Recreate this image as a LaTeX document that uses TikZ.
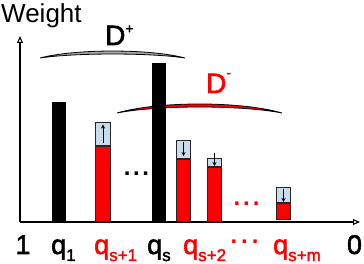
\documentclass[tikz,border=0pt]{standalone}
\usepackage{fontspec}
\setmainfont{Liberation Sans}
\newfontfamily\labelfont[FakeBold=2]{Liberation Sans}
\usetikzlibrary{arrows.meta}
\definecolor{boxblue}{RGB}{200,220,238}
\definecolor{lensgray}{RGB}{165,165,165}
\newcommand{\mysub}[1]{\raisebox{-7pt}{\fontsize{17}{17}\selectfont #1}}
\newcommand{\mysup}[2]{\raisebox{#1}{\fontsize{14}{14}\selectfont #2}}
\begin{document}
\begin{tikzpicture}[x=1pt,y=-1pt,
  axis/.style={line width=1.1pt, -{Triangle[open,length=7pt,width=6pt]}},
  blackbar/.style={fill=black, draw=none},
  redbar/.style={fill=red, draw=black!85, line width=1.2pt},
  topbox/.style={fill=boxblue, draw=black!85, line width=1.2pt},
  move/.style={line width=1pt, -{Stealth[length=4pt,width=4pt]}},
  lbl/.style={font=\labelfont\fontsize{27}{27}\selectfont, inner sep=0, anchor=base west},
  dlbl/.style={font=\labelfont\fontsize{28}{28}\selectfont, inner sep=0, anchor=base west},
  dots/.style={font=\fontsize{24}{24}\selectfont\bfseries, inner sep=0, anchor=base},
  lensplus/.style={fill=lensgray, draw=black, line width=0.8pt},
  lensminus/.style={fill=red, draw=black, line width=0.8pt}
]
\useasboundingbox (0,0) rectangle (364,264);

% axes
\coordinate (origin) at (20,222);
\coordinate (yend) at (20,36);
\coordinate (xend) at (360,222);
\draw[axis] (origin) -- (yend);
\draw[axis] (origin) -- (xend);

\node[font=\fontsize{26}{26}\selectfont, inner sep=0, anchor=base west] (weight) at (1,23) {Weight};

% D+ lens
\path[lensplus] (40,58) .. controls (75,48.7) and (150,48.7) .. (185,58)
   .. controls (150,52.7) and (75,52.7) .. (40,58) -- cycle;
\node[dlbl] (dplus) at (105,45) {D\mysup{11.6pt}{+}};

% D- lens
\path[lensminus] (117,113) .. controls (158,101) and (241,101) .. (282,113)
   .. controls (241,105) and (158,105) .. (117,113) -- cycle;
\node[dlbl, text=red] (dminus) at (206,93) {D\mysup{15.6pt}{-}};

% black bars
\fill[blackbar] (52,102) rectangle (66,222);
\fill[blackbar] (152,63) rectangle (166,222);

% q_{s+1}
\draw[redbar] (95.6,146) rectangle (110.4,221.4);
\draw[topbox] (95.6,122.6) rectangle (110.4,146);
\coordinate (a1s) at (103,143);
\coordinate (a1e) at (103,124.5);
\draw[move] (a1s) -- (a1e);

% bar 4
\draw[redbar] (176.6,159) rectangle (190.4,221.4);
\draw[topbox] (176.6,140.6) rectangle (190.4,159);
\coordinate (a2s) at (183.5,142);
\coordinate (a2e) at (183.5,156);
\draw[move] (a2s) -- (a2e);

% bar 5
\draw[redbar] (207.6,167) rectangle (221.4,221.4);
\draw[topbox] (207.6,158.6) rectangle (221.4,167);
\coordinate (a3s) at (214.5,153);
\coordinate (a3e) at (214.5,166);
\draw[move] (a3s) -- (a3e);

% bar 6
\draw[redbar] (276.6,203) rectangle (290.4,219.4);
\draw[topbox] (276.6,187.6) rectangle (290.4,203);
\coordinate (a4s) at (283.5,189);
\coordinate (a4e) at (283.5,202);
\draw[move] (a4s) -- (a4e);

% dots in plot
\node[dots] (pdots1) at (136.5,175.5) {.\hspace{2.5pt}.\hspace{2.5pt}.};
\node[dots, text=red] (pdots2) at (246.5,205.5) {.\hspace{3pt}.\hspace{3pt}.};

% bottom labels
\node[lbl, anchor=base] (l1) at (23,254) {1};
\node[lbl] (lq1) at (51,254) {q\mysub{1}};
\node[lbl, text=red] (lqs1) at (94,254) {q\mysub{s+1}};
\node[lbl] (lqs) at (147,254) {q\mysub{s}};
\node[lbl, text=red] (lqs2) at (183,254) {q\mysub{s+2}};
\node[dots, text=red] (ldots) at (244.5,243.5) {.\hspace{4pt}.\hspace{4pt}.};
\node[lbl, text=red] (lqsm) at (273,254) {q\mysub{s+m}};
\node[lbl, anchor=base] (l0) at (354.5,254) {0};
\end{tikzpicture}
\end{document}
